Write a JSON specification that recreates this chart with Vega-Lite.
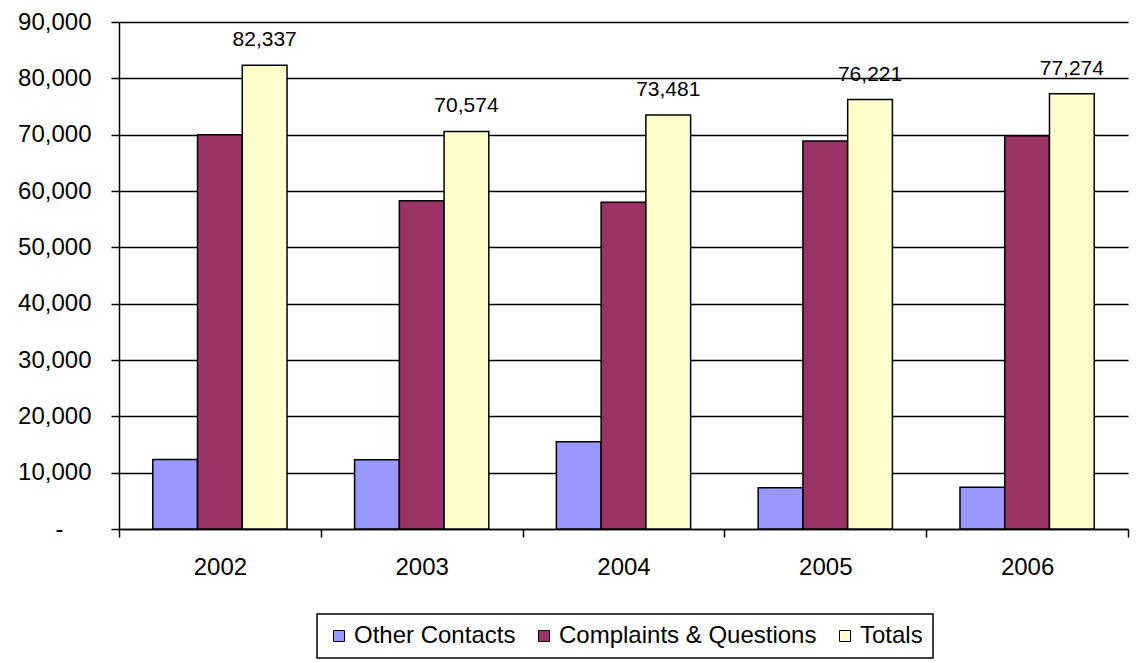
{
  "$schema": "https://vega.github.io/schema/vega-lite/v6.json",
  "width": 1009,
  "height": 507,
  "autosize": {"type": "none"},
  "padding": {"left": 119, "top": 22, "right": 11, "bottom": 134},
  "background": "white",
  "config": {
    "view": {"stroke": null},
    "font": "Liberation Sans",
    "axis": {"labelFont": "Liberation Sans", "labelColor": "black", "domainColor": "black", "tickColor": "black", "gridColor": "black"},
    "legend": {"strokeColor": "black", "strokeWidth": 1.5}
  },
  "data": {
    "values": [
      {"year": "2002", "series": "Other Contacts", "value": 12337},
      {"year": "2002", "series": "Complaints & Questions", "value": 70000},
      {"year": "2002", "series": "Totals", "value": 82337},
      {"year": "2003", "series": "Other Contacts", "value": 12300},
      {"year": "2003", "series": "Complaints & Questions", "value": 58274},
      {"year": "2003", "series": "Totals", "value": 70574},
      {"year": "2004", "series": "Other Contacts", "value": 15500},
      {"year": "2004", "series": "Complaints & Questions", "value": 57981},
      {"year": "2004", "series": "Totals", "value": 73481},
      {"year": "2005", "series": "Other Contacts", "value": 7330},
      {"year": "2005", "series": "Complaints & Questions", "value": 68891},
      {"year": "2005", "series": "Totals", "value": 76221},
      {"year": "2006", "series": "Other Contacts", "value": 7400},
      {"year": "2006", "series": "Complaints & Questions", "value": 69800},
      {"year": "2006", "series": "Totals", "value": 77274}
    ]
  },
  "encoding": {
    "x": {
      "field": "year", "type": "nominal", "title": null,
      "scale": {"paddingInner": 0, "paddingOuter": 0},
      "axis": {"labelAngle": 0, "labelFontSize": 24, "tickBand": "extent", "tickSize": 8, "tickWidth": 1.5, "domainWidth": 1.5, "labelPadding": 18}
    },
    "xOffset": {"field": "series", "type": "nominal", "sort": ["Other Contacts", "Complaints & Questions", "Totals"], "scale": {"paddingInner": 0, "paddingOuter": 0.755}},
    "y": {
      "field": "value", "type": "quantitative", "title": null,
      "scale": {"domain": [0, 90000], "nice": false},
      "axis": {"values": [0, 10000, 20000, 30000, 40000, 50000, 60000, 70000, 80000, 90000], "labelExpr": "datum.value === 0 ? '-' : format(datum.value, ',')", "labelFontSize": 24, "tickSize": 8, "tickWidth": 1.5, "domainWidth": 1.5, "gridWidth": 1.5, "labelPadding": {"condition": {"test": "datum.value === 0", "value": 48}, "value": 20}}
    }
  },
  "layer": [
    {
      "mark": {"type": "bar", "stroke": "black", "strokeWidth": 1.5},
      "encoding": {
        "color": {
          "field": "series", "type": "nominal",
          "scale": {"domain": ["Other Contacts", "Complaints & Questions", "Totals"], "range": ["#9999FF", "#993366", "#FFFFCC"]},
          "legend": {
            "title": null, "orient": "none", "legendX": 198, "legendY": 592, "direction": "horizontal",
            "labelFontSize": 24, "labelFont": "Liberation Sans", "labelColor": "black", "labelLimit": 0,
            "symbolType": "square", "symbolSize": 121, "symbolStrokeColor": "black", "symbolStrokeWidth": 1, "symbolOpacity": 1,
            "labelOffset": 3, "columnPadding": 16, "padding": 10
          }
        }
      }
    },
    {
      "transform": [{"filter": "datum.series === 'Totals'"}],
      "mark": {"type": "text", "fontSize": 21, "baseline": "alphabetic", "dy": -19, "color": "black", "font": "Liberation Sans"},
      "encoding": {"text": {"field": "value", "type": "quantitative", "format": ","}}
    }
  ]
}
